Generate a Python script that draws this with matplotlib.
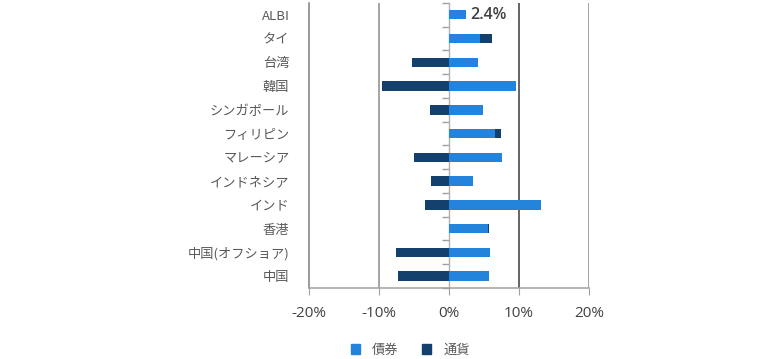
import numpy as np
import matplotlib
matplotlib.use("Agg")
import matplotlib.pyplot as plt
from matplotlib.patches import Patch

plt.rcParams['font.family'] = ['Noto Sans CJK JP', 'DejaVu Sans']

categories = ['ALBI', 'タイ', '台湾', '韓国', 'シンガポール', 'フィリピン',
              'マレーシア', 'インドネシア', 'インド', '香港', '中国(オフショア)', '中国']
bond = [2.4, 4.5, 4.2, 9.6, 4.9, 6.6, 7.6, 3.4, 13.2, 5.6, 5.9, 5.7]
currency = [0.0, 1.6, -5.2, -9.5, -2.7, 0.8, -5.0, -2.6, -3.4, 0.2, -7.6, -7.2]
xticks = [-20, -10, 0, 10, 20]

bond_color = '#2484DC'
cur_color = '#14406E'
text_gray = '#595959'

fig = plt.figure(figsize=(7.8, 3.59), dpi=100)
ax = fig.add_axes([0.396, 0.198, 0.359, 0.794])

y = np.arange(len(categories))
bond = np.array(bond)
currency = np.array(currency)
cur_left = np.where(np.sign(currency) == np.sign(bond), bond, 0)

ax.barh(y, bond, height=0.4, color=bond_color, label='債券', zorder=3)
ax.barh(y, currency, left=cur_left, height=0.4, color=cur_color, label='通貨', zorder=3)

ax.set_xlim(-20, 20)
ax.set_ylim(len(categories) - 0.5, -0.5)
ax.set_xticks(xticks)
ax.set_xticklabels([f'{t}%' for t in xticks], fontfamily='Open Sans', fontsize=11, color='#404040')
ax.set_yticks(y)
ax.set_yticklabels(categories, fontsize=9.5, color=text_gray)
ax.tick_params(axis='y', length=0, pad=14)
ax.tick_params(axis='x', length=5, color='#a0a0a0', pad=8)

# gridlines
for t, c in [(-10, '#8c8c8c'), (10, '#3a3a3a'), (20, '#8c8c8c')]:
    ax.axvline(t, color=c, lw=1.1, zorder=1)

for s in ['top', 'right']:
    ax.spines[s].set_visible(False)
ax.spines['left'].set_color('#7f7f7f')
ax.spines['left'].set_linewidth(1.1)
ax.spines['bottom'].set_color('#a0a0a0')
ax.spines['bottom'].set_linewidth(1.1)

# zero axis with category boundary ticks
sec = ax.secondary_yaxis(0.5)
sec.set_yticks(np.arange(len(categories) + 1) - 0.5)
sec.set_yticklabels([])
sec.tick_params(length=5, color='#a0a0a0', width=1, direction='in')
for s in sec.spines.values():
    s.set_color('#b0b0b0')
    s.set_linewidth(1)

ax.text(bond[0] + 0.6, 0, f'{bond[0]}%', fontsize=11.5, color='#404040',
        fontfamily='Open Sans', fontweight='semibold', va='center', ha='left')

handles = [Patch(color=bond_color, label='債券'), Patch(color=cur_color, label='通貨')]
fig.legend(handles=handles, loc='center', bbox_to_anchor=(0.526, 0.025), ncol=2,
           frameon=False, fontsize=9.5, handlelength=0.7, handleheight=0.7,
           columnspacing=1.8, handletextpad=0.9, labelcolor=text_gray)

fig.savefig('out.png', dpi=100)
